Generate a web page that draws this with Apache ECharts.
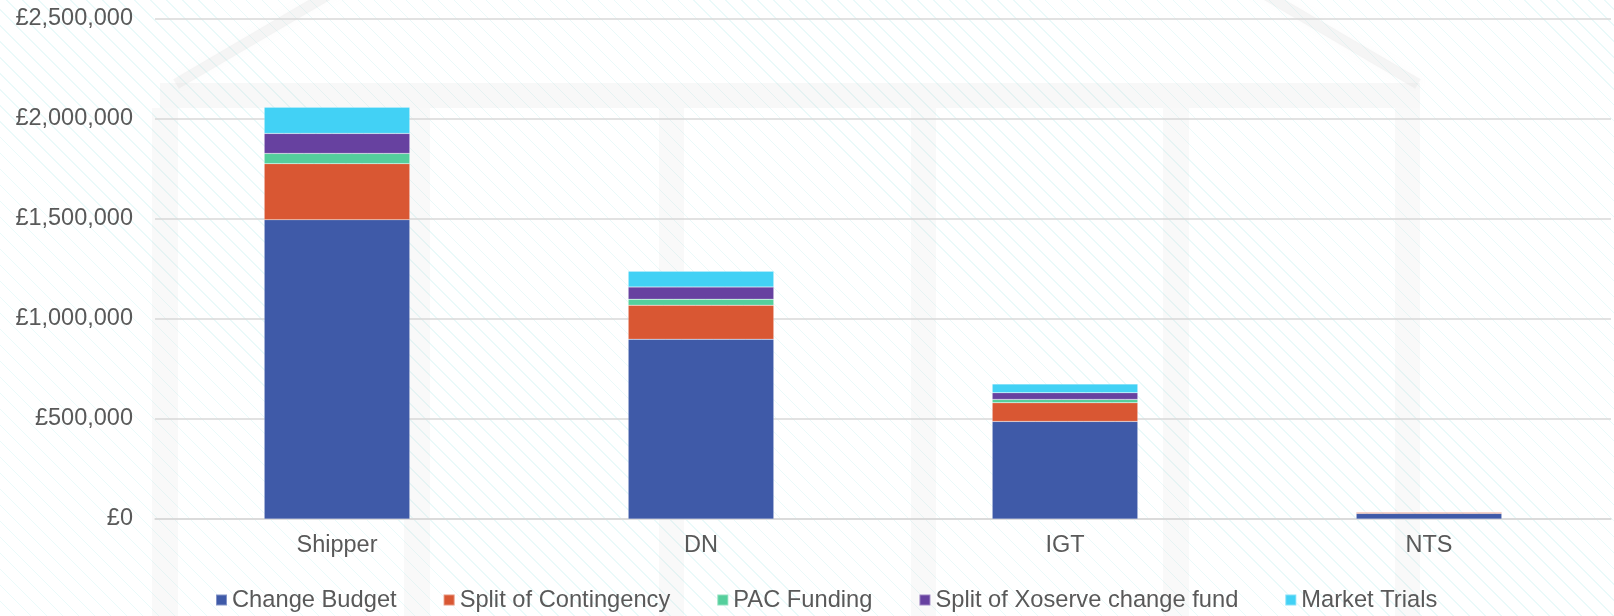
<!DOCTYPE html>
<html>
<head>
<meta charset="utf-8">
<script src="https://cdn.jsdelivr.net/npm/echarts@6/dist/echarts.min.js"></script>
<style>
  html, body { margin: 0; padding: 0; background: #ffffff; }
  #chart {
    width: 1614px; height: 616px;
    background-color: #ffffff;
    background-image: repeating-linear-gradient(45deg, rgba(255,255,255,0) 0px, rgba(255,255,255,0) 10.3px, rgba(150,228,228,0.2) 10.3px, rgba(150,228,228,0.2) 11.3px);
  }
</style>
</head>
<body>
<div id="chart"></div>
<script>
// ---- Data ----
var categories = ['Shipper', 'DN', 'IGT', 'NTS'];
var changeBudget = [1495000, 898000, 487500, 28000];
var splitContingency = [280000, 170000, 93000, 5300];
var pacFunding = [51000, 30000, 17000, 1000];
var splitXoserveFund = [100000, 61000, 33000, 2000];
var marketTrials = [131000, 78500, 43500, 2700];
var seriesNames = ['Change Budget', 'Split of Contingency', 'PAC Funding', 'Split of Xoserve change fund', 'Market Trials'];
var yTicks = [0, 500000, 1000000, 1500000, 2000000, 2500000];

var colors = ['#3f5aa8', '#d95733', '#54cf9c', '#6741a0', '#42d1f5'];
var textColor = '#595959';
var fontFamily = '"Liberation Sans", Arial, sans-serif';

function gbp(v) {
  return '£' + Math.round(v).toString().replace(/\B(?=(\d{3})+(?!\d))/g, ',');
}

// ---- Decorative faint building watermark ----
var wm = 'rgba(200,200,200,0.11)';
var columns = [[152, 178], [404, 430], [659, 684], [911, 936], [1163, 1189], [1395, 1420]];
var graphics = [];
graphics.push({
  type: 'polyline', z: -10, silent: true,
  shape: { points: [[176, 84], [797, -280], [1418, 84]] },
  style: { stroke: 'rgba(200,200,200,0.16)', lineWidth: 11, fill: null, shadowBlur: 12, shadowColor: 'rgba(200,200,200,0.3)' }
});
graphics.push({
  type: 'rect', z: -10, silent: true,
  shape: { x: 160, y: 83, width: 1260, height: 25 },
  style: { fill: 'rgba(200,200,200,0.13)' }
});
columns.forEach(function (c) {
  graphics.push({
    type: 'rect', z: -10, silent: true,
    shape: { x: c[0], y: 108, width: c[1] - c[0], height: 520 },
    style: { fill: wm }
  });
});

var dataSets = [changeBudget, splitContingency, pacFunding, splitXoserveFund, marketTrials];
var series = dataSets.map(function (d, i) {
  return {
    name: seriesNames[i],
    type: 'bar',
    stack: 'total',
    barWidth: '40%',
    data: d,
    itemStyle: { color: colors[i], borderColor: 'rgba(255,255,255,0.35)', borderWidth: 0.5 }
  };
});

var chart = echarts.init(document.getElementById('chart'), null, { renderer: 'canvas' });
chart.setOption({
  animation: false,
  backgroundColor: 'transparent',
  color: colors,
  textStyle: { fontFamily: fontFamily },
  graphic: graphics,
  grid: { left: 155, right: 3, top: 18.5, bottom: 97, containLabel: false },
  legend: {
    data: seriesNames,
    left: 210,
    top: 583,
    itemWidth: 11,
    itemHeight: 11,
    itemGap: 46,
    icon: 'rect',
    textStyle: { color: textColor, fontSize: 23.7, fontFamily: fontFamily }
  },
  xAxis: {
    type: 'category',
    data: categories,
    axisLine: { show: true, lineStyle: { color: '#d9d9d9', width: 1.5 } },
    axisTick: { show: false },
    axisLabel: { color: textColor, fontSize: 23.5, fontFamily: fontFamily, margin: 15 },
    splitLine: { show: false }
  },
  yAxis: {
    type: 'value',
    min: yTicks[0],
    max: yTicks[yTicks.length - 1],
    interval: yTicks[1] - yTicks[0],
    axisLine: { show: false },
    axisTick: { show: false },
    axisLabel: { color: textColor, fontSize: 23.5, fontFamily: fontFamily, margin: 22, formatter: gbp },
    splitLine: { lineStyle: { color: '#d9d9d9', width: 1.5 } }
  },
  series: series
});
</script>
</body>
</html>
